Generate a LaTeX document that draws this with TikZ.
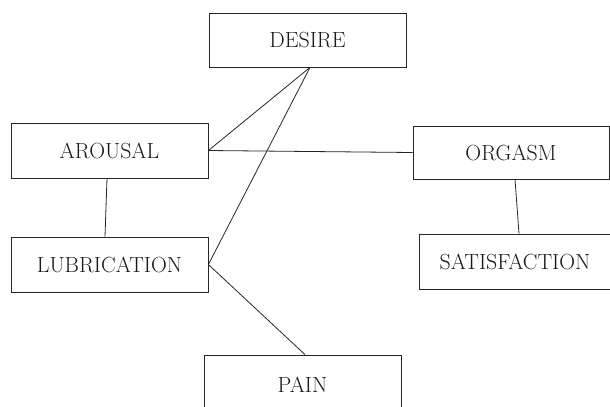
\documentclass[tikz,border=0pt]{standalone}
\begin{document}
\begin{tikzpicture}[x=1bp, y=-1bp,
    stagebox/.style={draw, line width=0.8bp, black!85, text=black!90, inner sep=0pt,
      minimum height=55bp, font=\fontsize{22}{26}\selectfont},
    link/.style={line width=0.8bp, black!85}]
    \clip (0,0) rectangle (610,406);

    % Stages (boxes)
    \node[stagebox, minimum width=197bp, minimum height=54bp] (desire) at (307.5, 40) {DESIRE};
    \node[stagebox, minimum width=197bp] (arousal) at (109.5, 150.5) {AROUSAL};
    \node[stagebox, minimum width=196bp, minimum height=53bp] (orgasm) at (511, 152.5) {ORGASM};
    \node[stagebox, minimum width=197bp] (lubrication) at (109.5, 264.5) {LUBRICATION};
    \node[stagebox, minimum width=192bp] (satisfaction) at (515, 261.5) {SATISFACTION};
    \node[stagebox, minimum width=197bp, minimum height=60bp] (pain) at (302.5, 385) {PAIN};

    % Links between stages
    \draw[link] (arousal.east) -- ([xshift=2.5bp]desire.south);
    \draw[link] (arousal.east) -- (orgasm.west);
    \draw[link] ([xshift=-2.5bp]arousal.south) -- ([xshift=-4.5bp]lubrication.north);
    \draw[link] (lubrication.east) -- ([xshift=2.5bp]desire.south);
    \draw[link] (lubrication.east) -- ([xshift=2.5bp]pain.north);
    \draw[link] ([xshift=4bp]orgasm.south) -- ([xshift=4bp]satisfaction.north);
\end{tikzpicture}
\end{document}
